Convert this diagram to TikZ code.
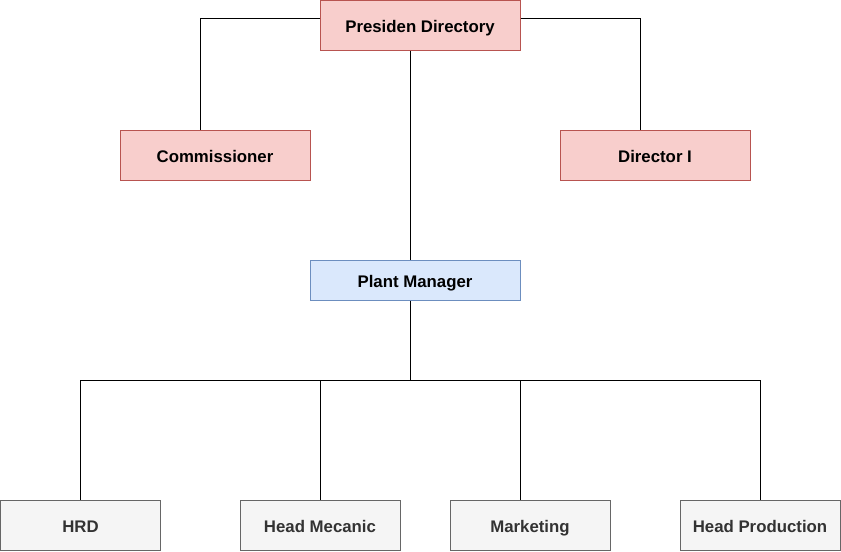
\documentclass[tikz,border=0pt]{standalone}
\usepackage{fontspec}
\setmainfont{Liberation Sans}
\usetikzlibrary{calc}
\definecolor{topFill}{HTML}{F8CECC}
\definecolor{topDraw}{HTML}{B85450}
\definecolor{mgrFill}{HTML}{DAE8FC}
\definecolor{mgrDraw}{HTML}{6C8EBF}
\definecolor{deptFill}{HTML}{F5F5F5}
\definecolor{deptDraw}{HTML}{666666}
\definecolor{deptText}{HTML}{333333}
\tikzset{
  font=\fontsize{12.6}{15}\selectfont\bfseries,
  box/.style  ={draw, align=center, inner sep=2pt, line width=0.75pt, text height=11pt, text depth=0pt},
  boss/.style ={box, fill=topFill, draw=topDraw, minimum height=37.5pt},
  mgr/.style  ={box, fill=mgrFill, draw=mgrDraw, minimum width=157.5pt, minimum height=30pt},
  dept/.style ={box, fill=deptFill, draw=deptDraw, text=deptText, minimum width=120pt, minimum height=37.5pt},
  conn/.style ={draw=black, line width=0.75pt},
}

\begin{document}
\begin{tikzpicture}[x=0.75pt, y=-0.75pt]
  \useasboundingbox (0,0) rectangle (841,551);
  % top level
  \node[boss, minimum width=150pt]   (pres) at (420,25)  {Presiden Directory};
  \node[boss, minimum width=142.5pt] (comm) at (215,155) {Commissioner};
  \node[boss, minimum width=142.5pt] (dir)  at (655,155) {Director I};
  \node[mgr]                         (pm)   at (415,280) {Plant Manager};

  % departments
  \node[dept] (hrd)  at (80.5,525)  {HRD};
  \node[dept] (mec)  at (320,525) {Head Mecanic};
  \node[dept] (mkt)  at (530,525) {Marketing};
  \node[dept] (prod) at (760,525) {Head Production};

  \draw[conn] ($(pres.west)+(0,-7)$) -| ($(comm.north)+(-15,0)$);
  \draw[conn] ($(pres.east)+(0,-7)$) -| ($(dir.north)+(-15,0)$);
  \draw[conn] ($(pres.south)+(-10,0)$) -- ($(pm.north)+(-5,0)$);

  % bus to the departments
  \coordinate (bus) at ($(pm.south)+(-5,80)$);
  \draw[conn] ($(pm.south)+(-5,0)$) -- (bus);
  \draw[conn] (bus) -| (hrd.north);
  \draw[conn] (bus) -| (mec.north);
  \draw[conn] (bus) -| ($(mkt.north)+(-10,0)$);
  \draw[conn] (bus) -| (prod.north);
\end{tikzpicture}
\end{document}
